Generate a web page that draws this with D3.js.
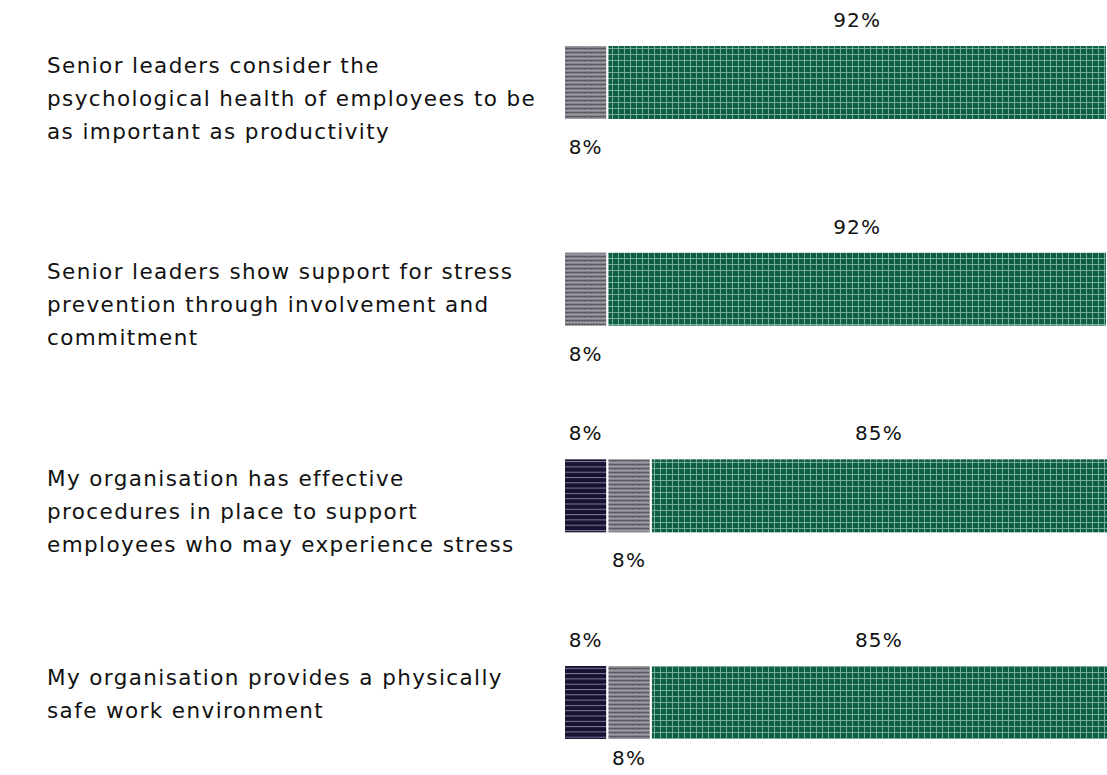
<!DOCTYPE html>
<html>
<head>
<meta charset="utf-8">
<script src="https://cdn.jsdelivr.net/npm/d3@7"></script>
<style>
  html, body { margin: 0; padding: 0; background: #fff; overflow: hidden; }
  svg { display: block; }
</style>
</head>
<body>
<svg id="chart" width="1107" height="775"></svg>
<script>
// Survey statements (each label split into its wrapped lines)
const categories = [
  ["Senior leaders consider the", "psychological health of employees to be", "as important as productivity"],
  ["Senior leaders show support for stress", "prevention through involvement and", "commitment"],
  ["My organisation has effective", "procedures in place to support", "employees who may experience stress"],
  ["My organisation provides a physically", "safe work environment"]
];
// Response shares (%) per statement
const disagree = [0, 0, 8, 8];
const neutral  = [8, 8, 8, 8];
const agree    = [92, 92, 85, 85];
const seriesKeys = ["disagree", "neutral", "agree"];

const svg = d3.select("#chart");
const W = 1107, H = 775;

// Fill patterns
const defs = svg.append("defs");

// agree: dark green with light grid
const pg = defs.append("pattern").attr("id", "pat-agree")
  .attr("patternUnits", "userSpaceOnUse").attr("width", 6).attr("height", 6);
pg.append("rect").attr("width", 6).attr("height", 6).attr("fill", "#0d5e45");
pg.append("rect").attr("x", 0).attr("y", 0).attr("width", 1).attr("height", 6).attr("fill", "#76ad98");
pg.append("rect").attr("x", 0).attr("y", 0).attr("width", 6).attr("height", 1).attr("fill", "#76ad98");

// neutral: grey weave
const pn = defs.append("pattern").attr("id", "pat-neutral")
  .attr("patternUnits", "userSpaceOnUse").attr("width", 6).attr("height", 4);
pn.append("rect").attr("width", 6).attr("height", 4).attr("fill", "#7e7e86");
pn.append("path").attr("d", "M0,1 L1.5,0 L3,1 L4.5,0 L6,1")
  .attr("fill", "none").attr("stroke", "#4d4d55").attr("stroke-width", 1);
pn.append("path").attr("d", "M0,3 L1.5,2 L3,3 L4.5,2 L6,3")
  .attr("fill", "none").attr("stroke", "#acacb4").attr("stroke-width", 0.9);

// disagree: navy with light horizontal lines
const pd = defs.append("pattern").attr("id", "pat-disagree")
  .attr("patternUnits", "userSpaceOnUse").attr("width", 6).attr("height", 5.3);
pd.append("rect").attr("width", 6).attr("height", 5.3).attr("fill", "#16122f");
pd.append("rect").attr("x", 0).attr("y", 0).attr("width", 6).attr("height", 1).attr("fill", "#7d7a9c");

// Scales
const x = d3.scaleLinear().domain([0, 100]).range([564, 1107]);
const y = d3.scalePoint().domain(d3.range(categories.length)).range([82.5, 702.5]);
const barH = 75;

// Stack the series
const rows = categories.map((c, i) => ({
  idx: i, disagree: disagree[i], neutral: neutral[i], agree: agree[i]
}));
const stacked = d3.stack().keys(seriesKeys)(rows);

const groups = svg.append("g").selectAll("g.series")
  .data(stacked).join("g").attr("class", "series")
  .attr("fill", d => `url(#pat-${d.key})`);

groups.selectAll("rect")
  .data(d => d.filter(s => s[1] - s[0] > 0))
  .join("rect")
  .attr("x", s => x(s[0]))
  .attr("y", s => y(s.data.idx) - barH / 2)
  .attr("width", s => x(s[1]) - x(s[0]))
  .attr("height", barH)
  .attr("stroke", "#fff")
  .attr("stroke-width", 2);

const fontFamily = "'DejaVu Sans', sans-serif";

// Value labels: disagree & agree above the bar, neutral below
const labelG = svg.append("g")
  .attr("font-family", fontFamily)
  .attr("font-size", 20)
  .attr("letter-spacing", 1.2)
  .attr("fill", "#111");

stacked.forEach(series => {
  series.forEach(s => {
    const v = s[1] - s[0];
    if (v <= 0) return;
    const cy = y(s.data.idx);
    const above = series.key !== "neutral";
    labelG.append("text")
      .attr("x", (x(s[0]) + Math.min(x(s[1]), W)) / 2)
      .attr("y", above ? cy - barH / 2 - 18 : Math.min(cy + barH / 2 + 34, H - 10))
      .attr("text-anchor", "middle")
      .text(v + "%");
  });
});

// Category labels
const catG = svg.append("g")
  .attr("font-family", fontFamily)
  .attr("font-size", 21.5)
  .attr("letter-spacing", 1.4)
  .attr("fill", "#111");

const lineH = 33;
categories.forEach((lines, i) => {
  const top = y(i) - barH / 2;
  const first = top + 12 + (lines.length - 2) * 8;
  const t = catG.append("text").attr("x", 47);
  lines.forEach((ln, j) => {
    t.append("tspan")
      .attr("x", 47)
      .attr("y", first + j * lineH)
      .attr("dy", "0.35em")
      .text(ln);
  });
});
</script>
</body>
</html>
